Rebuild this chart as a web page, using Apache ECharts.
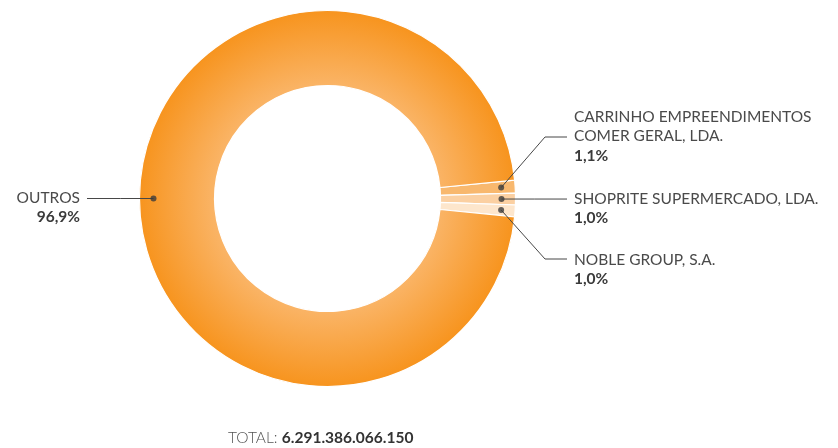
<!DOCTYPE html>
<html>
<head>
<meta charset="utf-8">
<script src="https://cdn.jsdelivr.net/npm/echarts@6/dist/echarts.min.js"></script>
<style>
  html, body { margin: 0; padding: 0; background: #fff; }
  #chart { width: 838px; height: 448px; }
</style>
</head>
<body>
<div id="chart"></div>
<script>
// Share of total by company
const names = [
  'CARRINHO EMPREENDIMENTOS\nCOMER GERAL, LDA.',
  'SHOPRITE SUPERMERCADO, LDA.',
  'NOBLE GROUP, S.A.',
  'OUTROS'
];
const shares = [1.1, 1.0, 1.0, 96.9];
const shareLabels = ['1,1%', '1,0%', '1,0%', '96,9%'];
const totalLabel = '6.291.386.066.150';

// Styling and label placement (layout only)
const ringColors = [
  '#f8b86e',
  '#fbd0a2',
  '#fde6cc',
  {
    type: 'radial', x: 0.5, y: 0.5, r: 0.5,
    colorStops: [
      { offset: 0, color: '#fccb92' },
      { offset: 0.6, color: '#fab466' },
      { offset: 1, color: '#f7941e' }
    ]
  }
];
const labelPlace = [
  { x: 574, y: 107, align: 'left', elbowX: 545, lineY: 137, endX: 567 },
  { x: 574, y: 189, align: 'left', elbowX: null, lineY: 199, endX: 567 },
  { x: 574, y: 250, align: 'left', elbowX: 545, lineY: 259, endX: 567 },
  { x: 80, y: 188, align: 'right', elbowX: null, lineY: 198, endX: 87 }
];

const center = [327.5, 198.5];
const outerRadius = 188;
const innerRadius = 113;
const leaderRadius = 174;
const total = shares.reduce((a, b) => a + b, 0);
const startAngle = (shares[0] + shares[1] + shares[2]) / total * 360 / 2;
const FONT = 'Lato';
const FONT_SIZE = 15.5;

// mid-angle (degrees, counter-clockwise from +x) of each slice, drawn clockwise from startAngle
const midAngles = [];
(function () {
  let acc = 0;
  shares.forEach((v) => {
    midAngles.push(startAngle - (acc + v / 2) / total * 360);
    acc += v;
  });
})();

const ringData = names.map((n, i) => ({
  name: n, value: shares[i], itemStyle: { color: ringColors[i] }
}));
const plainData = names.map((n, i) => ({ name: n, value: shares[i] }));
// leader-line anchor dots, placed on the polar grid at each slice's mid-angle
const dotData = midAngles.map((a) => [leaderRadius, (a + 360) % 360]);

const chart = echarts.init(document.getElementById('chart'), null, { renderer: 'canvas' });
chart.setOption({
  animation: false,
  title: {
    text: '{a|TOTAL: }{b|' + totalLabel + '}',
    left: 223, top: 425,
    textStyle: {
      rich: {
        a: { fontFamily: FONT, fontSize: FONT_SIZE, color: '#555555', fontWeight: 300 },
        b: { fontFamily: FONT, fontSize: FONT_SIZE, color: '#333333', fontWeight: 'bold' }
      }
    }
  },
  polar: { center: center, radius: outerRadius },
  angleAxis: { type: 'value', min: 0, max: 360, startAngle: 0, clockwise: false, show: false },
  radiusAxis: { type: 'value', min: 0, max: outerRadius, show: false },
  series: [
    {
      type: 'pie',
      z: 2,
      center: center,
      radius: [innerRadius, outerRadius],
      startAngle: startAngle,
      clockwise: true,
      silent: true,
      label: { show: false },
      labelLine: { show: false },
      itemStyle: { borderColor: '#ffffff', borderWidth: 1.2 },
      data: ringData
    },
    {
      // labels with leader lines
      type: 'pie',
      z: 5,
      center: center,
      radius: [0, leaderRadius],
      startAngle: startAngle,
      clockwise: true,
      silent: true,
      itemStyle: { color: 'rgba(0,0,0,0)' },
      label: {
        show: true,
        position: 'outside',
        formatter: (p) => '{n|' + p.name + '}\n{v|' + shareLabels[p.dataIndex] + '}',
        rich: {
          n: { fontFamily: FONT, fontSize: FONT_SIZE, lineHeight: 19.5, color: '#4a4a4a' },
          v: { fontFamily: FONT, fontSize: FONT_SIZE, lineHeight: 19.5, color: '#3a3a3a', fontWeight: 'bold' }
        }
      },
      labelLine: {
        show: true,
        lineStyle: { color: '#474747', width: 1 }
      },
      labelLayout: function (params) {
        const i = params.dataIndex;
        const pl = labelPlace[i];
        const a = midAngles[i] * Math.PI / 180;
        const p0 = [center[0] + leaderRadius * Math.cos(a), center[1] - leaderRadius * Math.sin(a)];
        let pts;
        if (pl.elbowX !== null) {
          pts = [p0, [pl.elbowX, pl.lineY], [pl.endX, pl.lineY]];
        } else {
          pts = [p0, [(p0[0] + pl.endX) / 2, p0[1]], [pl.endX, p0[1]]];
        }
        return {
          x: pl.x, y: pl.y, align: pl.align, verticalAlign: 'top',
          labelLinePoints: pts
        };
      },
      data: plainData
    },
    {
      type: 'scatter',
      coordinateSystem: 'polar',
      z: 10,
      silent: true,
      symbol: 'circle',
      symbolSize: 6,
      itemStyle: { color: '#3b3b3b' },
      data: dotData
    }
  ]
});
</script>
</body>
</html>
